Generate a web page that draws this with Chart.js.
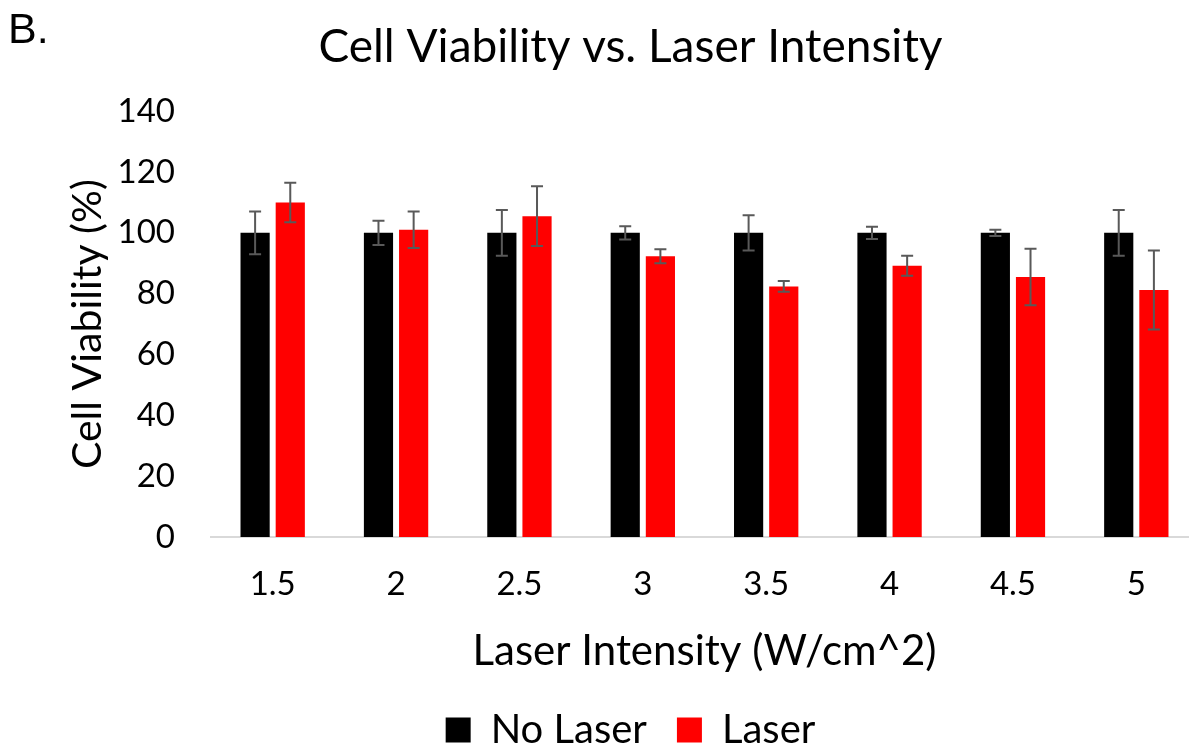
<!DOCTYPE html>
<html>
<head>
<meta charset="utf-8">
<script src="https://cdn.jsdelivr.net/npm/chart.js@4"></script>
<style>
    html, body { margin: 0; padding: 0; background: #fff; overflow: hidden; }
    #wrap { position: relative; width: 1250px; height: 760px; }
    #panel { position: absolute; left: 8px; top: 4px; font: 43px "Liberation Sans", Arial, sans-serif; color: #000; }
</style>
</head>
<body>
<div id="wrap">
    <canvas id="chart" width="1250" height="760"></canvas>
    <div id="panel">B.</div>
</div>
<script>
const intensities = ["1.5", "2", "2.5", "3", "3.5", "4", "4.5", "5"];
const noLaser = [100, 100, 100, 100, 100, 100, 100, 100];
const noLaserErr = [7, 4, 7.5, 2.2, 5.8, 2, 1, 7.5];
const laser = [110, 101, 105.5, 92.3, 82.4, 89.2, 85.5, 81.2];
const laserErr = [6.5, 6, 9.8, 2.3, 1.8, 3.3, 9.3, 13];
const yTicks = [0, 20, 40, 60, 80, 100, 120, 140];

const errorBars = {
    id: "errorBars",
    afterDatasetsDraw(chart) {
        const ctx = chart.ctx;
        const y = chart.scales.y;
        ctx.save();
        ctx.strokeStyle = "#595959";
        ctx.lineWidth = 2;
        chart.data.datasets.forEach((ds, i) => {
            const meta = chart.getDatasetMeta(i);
            meta.data.forEach((bar, j) => {
                const v = ds.data[j], e = ds.errors[j];
                const top = y.getPixelForValue(v + e);
                const bottom = y.getPixelForValue(v - e);
                ctx.beginPath();
                ctx.moveTo(bar.x, top);
                ctx.lineTo(bar.x, bottom);
                ctx.moveTo(bar.x - 6, top);
                ctx.lineTo(bar.x + 6, top);
                ctx.moveTo(bar.x - 6, bottom);
                ctx.lineTo(bar.x + 6, bottom);
                ctx.stroke();
            });
        });
        ctx.restore();
    }
};

new Chart(document.getElementById("chart"), {
    type: "bar",
    data: {
        labels: intensities,
        datasets: [
            { label: "No Laser", data: noLaser, errors: noLaserErr, backgroundColor: "#000000" },
            { label: "Laser", data: laser, errors: laserErr, backgroundColor: "#ff0000" }
        ]
    },
    options: {
        responsive: false,
        animation: false,
        categoryPercentage: 0.57,
        barPercentage: 0.83,
        layout: { padding: { left: 63, right: 52, top: 0, bottom: 0 } },
        plugins: {
            title: {
                display: true,
                text: "Cell Viability vs. Laser Intensity",
                color: "#000",
                font: { family: "Lato", size: 46, weight: "normal" },
                padding: { top: 20, bottom: 36 }
            },
            legend: {
                position: "bottom",
                labels: {
                    color: "#000",
                    font: { family: "Lato", size: 40 },
                    boxWidth: 25,
                    boxHeight: 25,
                    padding: 30
                }
            },
            tooltip: { enabled: false }
        },
        scales: {
            x: {
                afterFit: s => { s.height = 143; },
                grid: { display: false, drawTicks: false },
                border: { display: true, color: "#d9d9d9", width: 2 },
                ticks: { color: "#000", font: { family: "Lato", size: 33 }, padding: 28 },
                title: {
                    display: true,
                    text: "Laser Intensity (W/cm^2)",
                    color: "#000",
                    font: { family: "Lato", size: 42 },
                    padding: { top: 10, bottom: 3 }
                }
            },
            y: {
                min: 0,
                max: 140,
                afterBuildTicks: axis => { axis.ticks = yTicks.map(v => ({ value: v })); },
                afterFit: s => { s.width = 148; },
                grid: { display: false, drawTicks: false },
                border: { display: false },
                ticks: { color: "#000", font: { family: "Lato", size: 33 }, padding: 36 },
                title: {
                    display: true,
                    text: "Cell Viability (%)",
                    color: "#000",
                    font: { family: "Lato", size: 41 },
                    padding: { top: 0, bottom: 5 }
                }
            }
        }
    },
    plugins: [errorBars]
});
</script>
</body>
</html>
